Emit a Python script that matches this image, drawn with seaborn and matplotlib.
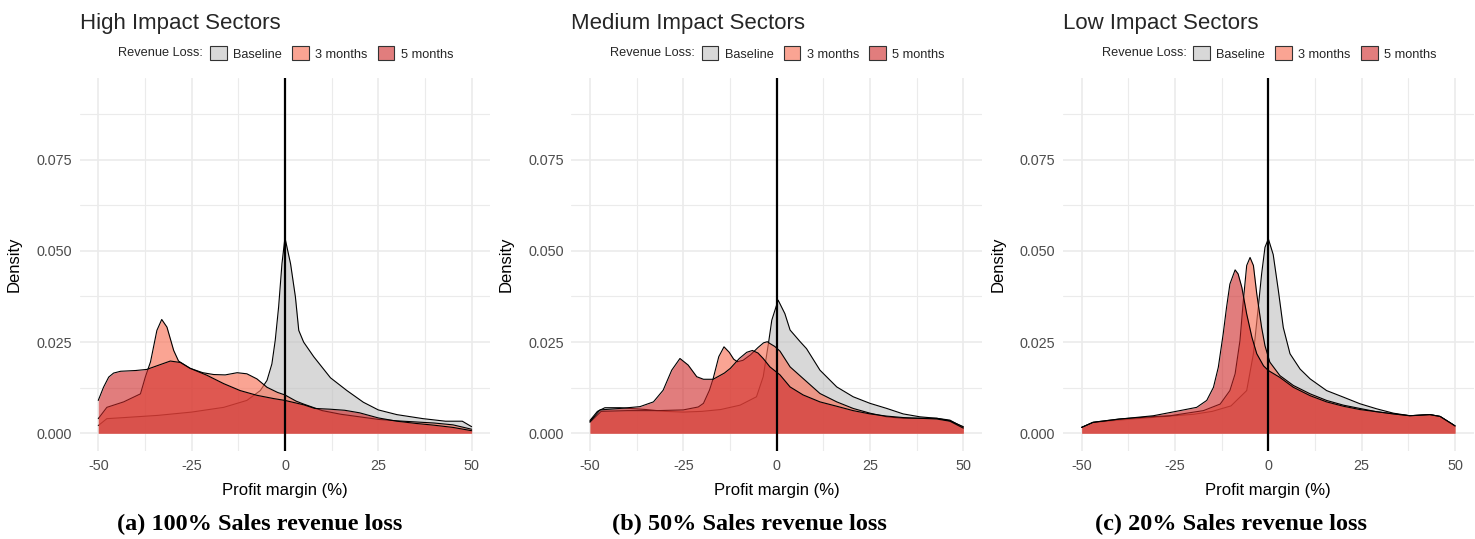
import matplotlib
matplotlib.use("Agg")
import matplotlib.pyplot as plt
from matplotlib.colors import to_rgba
from matplotlib.patches import Patch
import seaborn as sns

sns.set_style("white")
plt.rcParams["font.family"] = ["Liberation Sans", "DejaVu Sans"]
plt.rcParams["axes.unicode_minus"] = False

# ---------------------------------------------------------------------------
# Density curves of profit margin (%) per sector group and revenue-loss scenario
# ---------------------------------------------------------------------------
HIGH_BASE_X = [-50, -47.7, -43, -34, -25, -16.4, -10.2, -6.6, -4.8, -3.5, -2.6, -1.7, -0.8, 0,
               1.5, 2.8, 3.7, 5, 7.7, 12.2, 16.6, 21, 25, 30, 37, 43, 47.5, 50]
HIGH_BASE_Y = [0.0021, 0.0040, 0.0043, 0.0049, 0.0058, 0.0071, 0.0090, 0.0117, 0.0145, 0.0190,
               0.0255, 0.0346, 0.0465, 0.0536, 0.0465, 0.0374, 0.0282, 0.0250, 0.0210, 0.0152,
               0.0117, 0.0085, 0.0064, 0.0051, 0.0040, 0.0033, 0.0033, 0.0018]

HIGH_3M_X = [-50, -47.7, -43.2, -38.7, -37.4, -36, -34.3, -33, -31.6, -29.8, -28.5, -25.4, -22,
             -19.1, -16, -12.8, -10.2, -7.5, -4.8, -2, 0, 3, 5, 10, 15, 20, 25, 30, 35, 40, 45, 50]
HIGH_3M_Y = [0.0040, 0.0071, 0.0086, 0.0108, 0.0154, 0.0196, 0.0282, 0.0312, 0.0291, 0.0227,
             0.0198, 0.0178, 0.0166, 0.0161, 0.0160, 0.0166, 0.0163, 0.0149, 0.0126, 0.0112,
             0.0105, 0.0088, 0.0080, 0.0062, 0.0052, 0.0045, 0.0038, 0.0034, 0.0031, 0.0028,
             0.0023, 0.0011]

HIGH_5M_X = [-50, -48.6, -47.2, -45.9, -44, -40, -37, -34, -30.7, -28, -25.4, -20.9, -16.4, -12,
             -7.5, -3, 0, 5, 8, 12, 16, 20, 25, 30, 35, 40, 45, 50]
HIGH_5M_Y = [0.0090, 0.0126, 0.0154, 0.0165, 0.0170, 0.0172, 0.0175, 0.0186, 0.0198, 0.0194,
             0.0178, 0.0159, 0.0136, 0.0117, 0.0104, 0.0095, 0.0090, 0.0078, 0.0068, 0.0066,
             0.0063, 0.0056, 0.0042, 0.0033, 0.0027, 0.0022, 0.0016, 0.0007]

MED_BASE_X = [-50, -48, -46, -42, -35, -30, -25, -20, -15, -9.8, -5.4, -3.6, -2.2, -1.3, 0.4, 2.2,
              3.6, 6.3, 8, 11.6, 16.1, 20.5, 25, 29.5, 33.9, 38.4, 42.9, 46.4, 50]
MED_BASE_Y = [0.0035, 0.0060, 0.0070, 0.0070, 0.0065, 0.0060, 0.0058, 0.0060, 0.0065, 0.0077,
              0.0100, 0.0155, 0.0246, 0.0310, 0.0365, 0.0328, 0.0283, 0.0251, 0.0232, 0.0173,
              0.0127, 0.0100, 0.0082, 0.0068, 0.0053, 0.0045, 0.0041, 0.0036, 0.0016]

MED_3M_X = [-50, -47, -40, -32, -25, -21, -19.6, -18, -17, -15.5, -14.1, -12.7, -11.5, -10.5, -9,
            -7, -5, -3.5, -2.5, -1.8, -0.5, 0.9, 3.6, 7.1, 11.6, 16.1, 20.5, 25, 29.5, 33.9, 38.4,
            42.9, 46.4, 50]
MED_3M_Y = [0.0030, 0.0060, 0.0062, 0.0062, 0.0064, 0.0072, 0.0082, 0.0118, 0.0150, 0.0210,
            0.0237, 0.0222, 0.0203, 0.0196, 0.0200, 0.0215, 0.0235, 0.0248, 0.0251, 0.0246,
            0.0238, 0.0225, 0.0182, 0.0150, 0.0109, 0.0086, 0.0068, 0.0055, 0.0045, 0.0041,
            0.0041, 0.0041, 0.0034, 0.0018]

MED_5M_X = [-50, -47.3, -42, -36.6, -33, -30.4, -28.1, -25.9, -23.7, -21.4, -19.6, -17, -14,
            -12.4, -10, -8, -6.5, -5, -3.6, -1.8, 0.9, 3.6, 7.1, 11.6, 16.1, 20.5, 25, 29.5, 33.9,
            38.4, 42.9, 46.4, 50]
MED_5M_Y = [0.0032, 0.0064, 0.0068, 0.0073, 0.0086, 0.0118, 0.0173, 0.0205, 0.0187, 0.0155,
            0.0148, 0.0148, 0.0165, 0.0178, 0.0205, 0.0222, 0.0227, 0.0220, 0.0205, 0.0182,
            0.0160, 0.0127, 0.0105, 0.0086, 0.0074, 0.0062, 0.0053, 0.0047, 0.0043, 0.0041,
            0.0039, 0.0033, 0.0014]

LOW_BASE_X = [-50, -47, -40, -30, -20, -15, -10, -8.5, -5.8, -4, -2.7, -1.8, -0.9, 0, 1.3, 2.7,
              4, 5.8, 8.5, 11.2, 15.6, 20.1, 24.5, 29, 33.5, 37.9, 43.3, 46, 49.1, 50]
LOW_BASE_Y = [0.0016, 0.0029, 0.0036, 0.0044, 0.0052, 0.0060, 0.0075, 0.0090, 0.0117, 0.0218,
              0.0345, 0.0437, 0.0510, 0.0533, 0.0490, 0.0390, 0.0290, 0.0218, 0.0176, 0.0149,
              0.0117, 0.0099, 0.0081, 0.0067, 0.0055, 0.0048, 0.0051, 0.0046, 0.0026, 0.0020]

LOW_3M_X = [-50, -47, -40, -30, -26.3, -17.4, -12.9, -10.3, -8.9, -7.6, -6.7, -5.8, -4.9, -4,
            -3.1, -1.8, -0.9, 0.4, 3.1, 6.7, 11.2, 15.6, 20.1, 24.5, 29, 33.5, 37.9, 43.3, 46,
            49.1, 50]
LOW_3M_Y = [0.0016, 0.0030, 0.0039, 0.0046, 0.0048, 0.0062, 0.0080, 0.0117, 0.0163, 0.0254,
            0.0364, 0.0460, 0.0482, 0.0460, 0.0382, 0.0290, 0.0240, 0.0195, 0.0158, 0.0131,
            0.0108, 0.0090, 0.0077, 0.0068, 0.0059, 0.0053, 0.0048, 0.0051, 0.0046, 0.0026,
            0.0020]

LOW_5M_X = [-50, -46.9, -39.7, -30.8, -23.7, -19.2, -16.5, -14.7, -13.4, -12.1, -11.2, -10.3,
            -8.9, -8.1, -7.1, -5.8, -4.4, -3.1, -1.3, 0, 3.1, 6.7, 11.2, 15.6, 20.1, 24.5, 29,
            33.5, 37.9, 43.3, 46, 49.1, 50]
LOW_5M_Y = [0.0016, 0.0030, 0.0039, 0.0048, 0.0062, 0.0071, 0.0090, 0.0126, 0.0181, 0.0272,
            0.0345, 0.0409, 0.0448, 0.0437, 0.0400, 0.0327, 0.0263, 0.0218, 0.0185, 0.0172,
            0.0153, 0.0126, 0.0103, 0.0086, 0.0074, 0.0065, 0.0059, 0.0053, 0.0048, 0.0051,
            0.0046, 0.0026, 0.0020]

SCENARIOS = ["Baseline", "3 months", "5 months"]
PANEL_TITLES = ["High Impact Sectors", "Medium Impact Sectors", "Low Impact Sectors"]
CAPTIONS = ["(a) 100% Sales revenue loss", "(b) 50% Sales revenue loss",
            "(c) 20% Sales revenue loss"]
X_TICKS = [-50, -25, 0, 25, 50]
X_TICK_LABELS = ["-50", "-25", "0", "25", "50"]
Y_TICKS = [0.0, 0.025, 0.05, 0.075]
Y_TICK_LABELS = ["0.000", "0.025", "0.050", "0.075"]

PANEL_SERIES = [
    [(HIGH_BASE_X, HIGH_BASE_Y), (HIGH_3M_X, HIGH_3M_Y), (HIGH_5M_X, HIGH_5M_Y)],
    [(MED_BASE_X, MED_BASE_Y), (MED_3M_X, MED_3M_Y), (MED_5M_X, MED_5M_Y)],
    [(LOW_BASE_X, LOW_BASE_Y), (LOW_3M_X, LOW_3M_Y), (LOW_5M_X, LOW_5M_Y)],
]

# styling
FILL_COLORS = ["#bebebe", "#f8735a", "#cd2626"]
FILL_ALPHA = [0.6, 0.65, 0.6]
GRID_COLOR = "#ebebeb"
TICK_COLOR = "#4d4d4d"

W, H = 1475, 539
fig = plt.figure(figsize=(W / 100, H / 100), dpi=100)

panel_left_px = [79.6, 571.3, 1063.0]
panel_w_px = 410.7
panel_top_px, panel_bottom_px = 77.7, 451.0
caption_x_px = [260, 749, 1231]

for p in range(3):
    ax = fig.add_axes([panel_left_px[p] / W, 1 - panel_bottom_px / H,
                       panel_w_px / W, (panel_bottom_px - panel_top_px) / H])
    ax.set_axisbelow(True)

    for i, (xs, ds) in enumerate(PANEL_SERIES[p]):
        ax.fill_between(xs, 0, ds, color=FILL_COLORS[i], alpha=FILL_ALPHA[i],
                        linewidth=0, zorder=2 + 2 * i)
        sns.lineplot(x=xs, y=ds, ax=ax, color="black", linewidth=0.8,
                     estimator=None, sort=False, legend=False, zorder=3 + 2 * i)

    ax.axvline(0, color="black", linewidth=1.6, zorder=20)

    ax.set_xlim(-55, 55)
    ax.set_ylim(-0.00487, 0.0975)
    ax.set_xticks(X_TICKS)
    ax.set_xticklabels(X_TICK_LABELS)
    ax.set_yticks(Y_TICKS)
    ax.set_yticklabels(Y_TICK_LABELS)
    ax.set_xticks([-37.5, -12.5, 12.5, 37.5], minor=True)
    ax.set_yticks([0.0125, 0.0375, 0.0625, 0.0875], minor=True)
    ax.grid(which="major", color=GRID_COLOR, linewidth=1.2)
    ax.grid(which="minor", color=GRID_COLOR, linewidth=0.8)
    ax.tick_params(which="both", length=0)
    ax.tick_params(axis="both", labelsize=10.4, labelcolor=TICK_COLOR)
    ax.tick_params(axis="x", pad=6)
    ax.tick_params(axis="y", pad=5.5)
    for s in ax.spines.values():
        s.set_visible(False)

    ax.set_xlabel("Profit margin (%)", fontsize=12, color="black")
    ax.set_ylabel("Density", fontsize=12, color="black")
    ax.xaxis.set_label_coords(0.5, -0.0857)
    ax.yaxis.set_label_coords(-0.14, 0.5)

    ax.text(0, (panel_bottom_px - 28.5) / (panel_bottom_px - panel_top_px),
            PANEL_TITLES[p], transform=ax.transAxes, fontsize=16,
            ha="left", va="baseline")

    # legend on top, title to the left of the keys
    leg_y = (panel_bottom_px - 53.5) / (panel_bottom_px - panel_top_px)
    ax.text((203 - 79.6) / panel_w_px, leg_y, "Revenue Loss:", transform=ax.transAxes,
            fontsize=9.2, ha="right", va="center")
    handles = [Patch(facecolor=to_rgba(FILL_COLORS[i], FILL_ALPHA[i]),
                     edgecolor="#333333", linewidth=0.8, label=SCENARIOS[i])
               for i in range(3)]
    ax.legend(handles=handles, loc="center left",
              bbox_to_anchor=((210 - 79.6) / panel_w_px, leg_y),
              ncol=3, frameon=False, fontsize=9.2, handlelength=1.3,
              handleheight=1.3, handletextpad=0.5, columnspacing=0.8,
              borderpad=0, borderaxespad=0)

    fig.text(caption_x_px[p] / W, 1 - 524 / H, CAPTIONS[p],
             fontfamily="Liberation Serif", fontweight="bold", fontsize=17.5,
             color="black", ha="center", va="center")

fig.savefig("out.png", dpi=100)
